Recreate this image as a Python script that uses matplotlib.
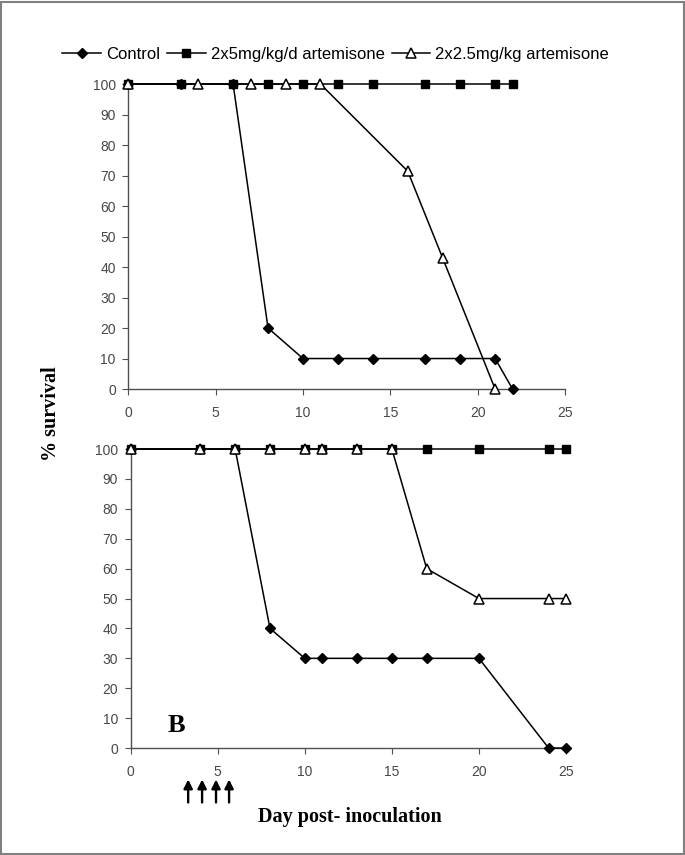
import matplotlib
matplotlib.use("Agg")
import matplotlib.pyplot as plt
from matplotlib.lines import Line2D
from matplotlib.patches import Rectangle

# ---- data (panel A, top) ----
a_ctrl_days = [0, 3, 6, 8, 10, 12, 14, 17, 19, 21, 22]
a_ctrl_surv = [100, 100, 100, 20, 10, 10, 10, 10, 10, 10, 0]
a_hi_days = [0, 3, 6, 8, 10, 12, 14, 17, 19, 21, 22]
a_hi_surv = [100, 100, 100, 100, 100, 100, 100, 100, 100, 100, 100]
a_lo_days = [0, 4, 7, 9, 11, 16, 18, 21]
a_lo_surv = [100, 100, 100, 100, 100, 71.4, 42.9, 0]

# ---- data (panel B, bottom) ----
b_ctrl_days = [0, 4, 6, 8, 10, 11, 13, 15, 17, 20, 24, 25]
b_ctrl_surv = [100, 100, 100, 40, 30, 30, 30, 30, 30, 30, 0, 0]
b_hi_days = [0, 4, 6, 8, 10, 11, 13, 15, 17, 20, 24, 25]
b_hi_surv = [100] * 12
b_lo_days = [0, 4, 6, 8, 10, 11, 13, 15, 17, 20, 24, 25]
b_lo_surv = [100, 100, 100, 100, 100, 100, 100, 100, 60, 50, 50, 50]

labels = ["Control", "2x5mg/kg/d artemisone", "2x2.5mg/kg artemisone"]
treatment_days = [3.3, 4.1, 4.9, 5.65]
x_ticks = [0, 5, 10, 15, 20, 25]
y_ticks = [0, 10, 20, 30, 40, 50, 60, 70, 80, 90, 100]

fig = plt.figure(figsize=(6.85, 8.55), dpi=100)
fig.patch.set_facecolor("white")
fig.patches.append(Rectangle((0.001, 0.001), 0.997, 0.997, transform=fig.transFigure,
                             fill=False, edgecolor="#808080", linewidth=1.5))

sans = ["Liberation Sans", "DejaVu Sans"]
serif = ["Liberation Serif", "DejaVu Serif"]

styles = [
    dict(marker="D", markersize=5.2, markerfacecolor="black", markeredgecolor="black"),
    dict(marker="s", markersize=6.0, markerfacecolor="black", markeredgecolor="black"),
    dict(marker="^", markersize=6.6, markerfacecolor="white", markeredgecolor="black",
         markeredgewidth=1.1),
]

def setup(ax):
    ax.set_xlim(0, 25)
    ax.set_ylim(0, 100)
    ax.set_xticks(x_ticks)
    ax.set_yticks(y_ticks)
    for s in ["top", "right"]:
        ax.spines[s].set_visible(False)
    for s in ["left", "bottom"]:
        ax.spines[s].set_color("#505050")
        ax.spines[s].set_linewidth(1.0)
    ax.tick_params(axis="both", direction="out", length=4, width=0.8, color="#505050",
                   labelcolor="#484848", labelsize=10)
    ax.tick_params(axis="x", pad=8)
    ax.tick_params(axis="y", pad=5)
    for lab in ax.get_xticklabels() + ax.get_yticklabels():
        lab.set_family(sans)

ax1 = fig.add_axes([0.1873, 0.545, 0.6375, 0.3567])
ax2 = fig.add_axes([0.1908, 0.1251, 0.6355, 0.3497])

for ax, series in [
    (ax1, [(a_ctrl_days, a_ctrl_surv), (a_hi_days, a_hi_surv), (a_lo_days, a_lo_surv)]),
    (ax2, [(b_ctrl_days, b_ctrl_surv), (b_hi_days, b_hi_surv), (b_lo_days, b_lo_surv)]),
]:
    for (d, s), st, lab in zip(series, styles, labels):
        ax.plot(d, s, color="black", linewidth=1.1, clip_on=False, label=lab, zorder=3, **st)
    setup(ax)

# legend
handles = [Line2D([], [], color="black", linewidth=1.1, **st) for st in styles]
fig.legend(handles, labels, loc="center", bbox_to_anchor=(0.49, 0.936), ncol=3,
           frameon=False, handlelength=2.3, handletextpad=0.3, columnspacing=0.45,
           prop={"family": sans, "size": 12})

# panel letter
ax2.text(2.6, 7.5, "B", fontsize=19, fontweight="bold", family=serif, ha="center", va="center")

# arrows for treatment days
for d in treatment_days:
    ax2.annotate("", xy=(d, -0.105), xytext=(d, -0.182),
                 xycoords=("data", "axes fraction"), textcoords=("data", "axes fraction"),
                 arrowprops=dict(arrowstyle="-|>", color="black", lw=1.7,
                                 mutation_scale=13, shrinkA=0, shrinkB=0),
                 annotation_clip=False)

# axis titles
fig.text(0.075, 0.516, "% survival", rotation=90, fontsize=14.5, fontweight="bold",
         family=serif, ha="center", va="center")
fig.text(0.511, 0.045, "Day post- inoculation", fontsize=14.5, fontweight="bold",
         family=serif, ha="center", va="center")

fig.savefig("out.png", dpi=100, facecolor="white")
